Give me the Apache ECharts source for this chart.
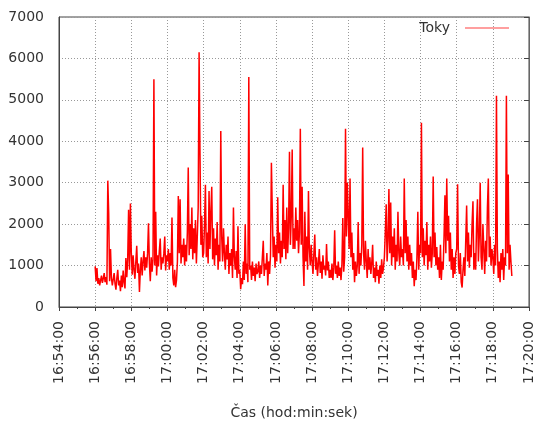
<!DOCTYPE html>
<html>
<head>
<meta charset="utf-8">
<script src="https://cdn.jsdelivr.net/npm/echarts@6/dist/echarts.min.js"></script>
<style>
  html, body { margin: 0; padding: 0; background: #fff; }
  #chart { width: 536px; height: 425px; }
</style>
</head>
<body>
<div id="chart"></div>
<script>
// Flow samples ("Toky"), one value every 3 s starting at 16:56:00.
const startTime = '16:56:00';
const stepSeconds = 3;
const tokyValues = [
  // 16:56
  980, 620, 940, 560, 700, 520, 640, 760, 580, 690, 820, 600, 720, 540, 3050, 2250, 620, 1400, 700, 520,
  // 16:57
  480, 820, 560, 420, 700, 900, 520, 640, 380, 760, 480, 880, 600, 450, 1180, 720, 1150, 2350, 900, 2500,
  // 16:58
  1300, 780, 1250, 900, 680, 1100, 1480, 820, 1050, 360, 900, 1200, 760, 1100, 1350, 880, 1200, 950, 1300, 2020,
  // 16:59
  1050, 620, 1200, 850, 1150, 5500, 1000, 2300, 760, 1250, 980, 1350, 1650, 900, 1200, 1050, 1300, 1700, 880, 1250,
  // 17:00
  1100, 1400, 900, 1300, 1000, 2160, 700, 520, 900, 480, 650, 1100, 2680, 1300, 2600, 1050, 1500, 1200, 1650, 1000,
  // 17:01
  1500, 1100, 1800, 3370, 1250, 2000, 1400, 2400, 1150, 1900, 1300, 2100, 1050, 1700, 2400, 6150, 3700, 1500, 2200, 1200,
  // 17:02
  1300, 2000, 2950, 1200, 1800, 1050, 2800, 1400, 2300, 2900, 1150, 1900, 1000, 1650, 1250, 2050, 900, 1500, 1100, 4250,
  // 17:03
  1700, 1100, 1900, 1300, 900, 1500, 1150, 1700, 800, 1300, 1000, 1400, 700, 2400, 1200, 900, 1350, 700, 1950, 800,
  // 17:04
  900, 430, 700, 550, 1100, 650, 2000, 800, 1050, 600, 5550, 900, 1000, 650, 1100, 750, 950, 620, 1050, 800,
  // 17:05
  850, 1100, 700, 1000, 800, 1200, 1600, 750, 1050, 900, 1300, 520, 1100, 800, 1250, 3480, 2300, 1200, 1700, 950,
  // 17:06
  1500, 1100, 2650, 1300, 1800, 1050, 1600, 1200, 2950, 1400, 2100, 1150, 2400, 1300, 1900, 3750, 1500, 2200, 3800, 1400,
  // 17:07
  1900, 1400, 2400, 1600, 2100, 1300, 1800, 4300, 1500, 2900, 1200, 510, 2300, 1100, 1700, 900, 2800, 1400, 1000, 1500,
  // 17:08
  1100, 800, 1300, 1750, 900, 1200, 750, 1050, 1400, 820, 1100, 680, 1250, 900, 1000, 760, 1520, 880, 1100, 700,
  // 17:09
  900, 700, 1050, 650, 950, 1850, 800, 1000, 700, 1100, 750, 950, 650, 1000, 2150, 850, 1200, 4300, 1700, 3000,
  // 17:10
  2200, 1400, 3100, 1200, 1800, 900, 1300, 600, 1100, 750, 1000, 2050, 800, 1300, 1000, 1500, 3850, 1300, 900, 1600,
  // 17:11
  1100, 700, 1400, 900, 1200, 800, 1050, 1500, 700, 950, 600, 1100, 750, 900, 560, 1000, 700, 1150, 800, 950,
  // 17:12
  1200, 1800, 2480, 1100, 1600, 2850, 1300, 2520, 1000, 1700, 1200, 1900, 900, 1500, 1100, 2300, 1300, 1000, 1700, 1200,
  // 17:13
  1400, 1000, 3100, 1300, 2100, 1100, 1700, 900, 1500, 1000, 1300, 700, 1100, 500, 900, 650, 1200, 2300, 900, 1500,
  // 17:14
  1300, 4450, 1200, 1900, 1000, 1600, 1250, 2050, 900, 1500, 1100, 1700, 950, 1300, 3150, 1200, 1800, 1000, 1450, 900,
  // 17:15
  1200, 700, 1500, 650, 1100, 900, 1700, 2700, 1300, 3100, 1600, 2200, 1100, 1800, 900, 1400, 700, 1200, 800, 1300,
  // 17:16
  1400, 2960, 1000, 800, 1300, 600, 470, 900, 1200, 750, 1600, 2450, 1100, 1800, 950, 1500, 1200, 2000, 2550, 900,
  // 17:17
  1300, 900, 2000, 2600, 1100, 1700, 3000, 1200, 900, 2000, 1400, 800, 1600, 1100, 2400, 3100, 1200, 1700, 1000, 1400,
  // 17:18
  1200, 800, 1500, 1000, 5100, 1400, 700, 1100, 600, 1300, 900, 1400, 650, 1200, 1000, 5100, 1300, 3200, 900, 1500,
  // 17:19
  1100, 750
];

// Axis ranges (time of day in seconds) and y range.
const xStart = '16:54:00';
const xEnd = '17:20:00';
const xStepSeconds = 120;
const yMin = 0;
const yMax = 7000;
const yStep = 1000;

function toSeconds(hms) {
  const p = hms.split(':').map(Number);
  return p[0] * 3600 + p[1] * 60 + p[2];
}
function pad(n) { return (n < 10 ? '0' : '') + n; }
function toHMS(sec) {
  sec = Math.round(sec);
  const h = Math.floor(sec / 3600);
  const m = Math.floor((sec % 3600) / 60);
  const s = sec % 60;
  return h + ':' + pad(m) + ':' + pad(s);
}

const t0 = toSeconds(startTime);
const seriesData = tokyValues.map((v, i) => [t0 + i * stepSeconds, v]);

const font = 'DejaVu Sans';
const textColor = '#333';
const gridLine = { show: true, lineStyle: { color: '#999', type: [1, 2], width: 1 } };

const chart = echarts.init(document.getElementById('chart'), null, { renderer: 'canvas' });
chart.setOption({
  animation: false,
  backgroundColor: '#fff',
  textStyle: { fontFamily: font },
  grid: {
    left: 59, right: 7, top: 17, bottom: 117,
    show: true, borderColor: '#444', borderWidth: 1
  },
  legend: {
    right: 22, top: 16,
    icon: 'rect', itemWidth: 44, itemHeight: 1,
    align: 'right',
    itemStyle: { color: '#ff4040', borderWidth: 0 },
    lineStyle: { width: 0 },
    textStyle: { fontFamily: font, fontSize: 14, color: textColor, padding: [0, 10, 0, 0] },
    data: ['Toky']
  },
  xAxis: [{
    type: 'value',
    min: toSeconds(xStart), max: toSeconds(xEnd), interval: xStepSeconds,
    name: 'Čas (hod:min:sek)',
    nameLocation: 'middle', nameGap: 99,
    nameTextStyle: { fontFamily: font, fontSize: 14, color: textColor },
    axisLine: { show: true, lineStyle: { color: '#444' } },
    axisTick: { show: true, length: 4, lineStyle: { color: '#444' } },
    minorTick: { show: true, splitNumber: 2, length: 2, lineStyle: { color: '#444' } },
    splitLine: gridLine,
    axisLabel: {
      rotate: 90, margin: 14, fontFamily: font, fontSize: 14, color: textColor,
      formatter: v => toHMS(v)
    }
  }],
  yAxis: [{
    type: 'value', min: yMin, max: yMax, interval: yStep,
    axisLine: { show: true, lineStyle: { color: '#444' } },
    axisTick: { show: false },
    splitLine: gridLine,
    axisLabel: {
      margin: 15, fontFamily: font, fontSize: 14, color: textColor,
      formatter: v => String(v)
    }
  }, {
    type: 'value', min: yMin, max: yMax, interval: yStep, position: 'right',
    axisLine: { show: true, lineStyle: { color: '#666' } },
    axisTick: { show: true, inside: true, length: 5, lineStyle: { color: '#444' } },
    axisLabel: { show: false },
    splitLine: { show: false }
  }],
  series: [{
    name: 'Toky',
    type: 'line',
    data: seriesData,
    showSymbol: false,
    sampling: null,
    color: '#ff0000',
    lineStyle: { color: '#ff0000', width: 1.5 }
  }]
});
</script>
</body>
</html>
